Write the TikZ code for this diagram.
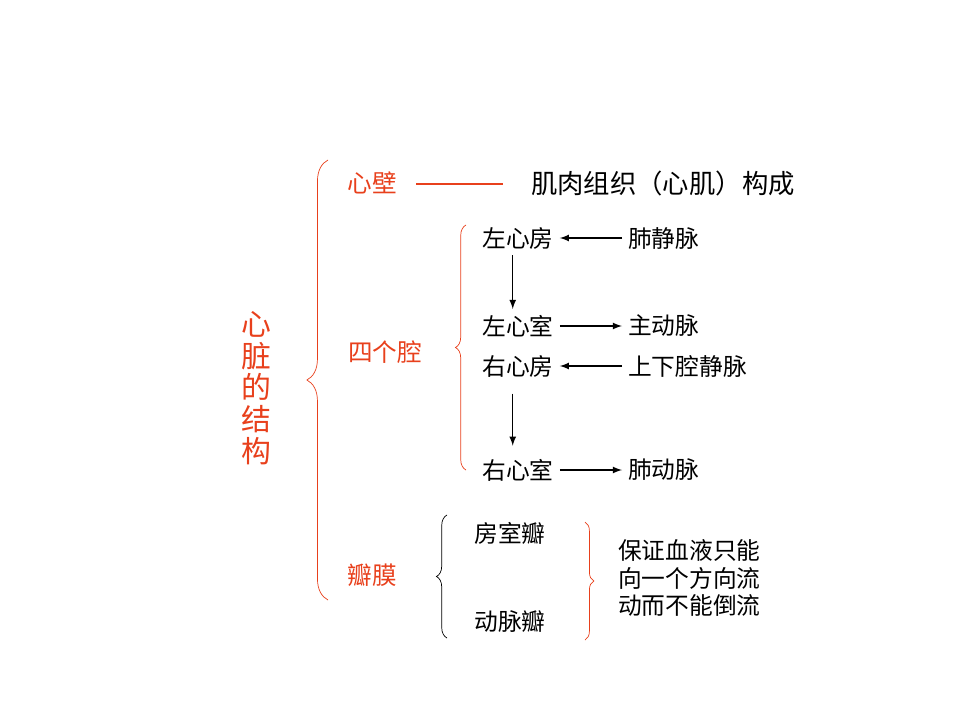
\documentclass[tikz,border=0pt]{standalone}
\usepackage{fontspec}
\newfontfamily\cjk{Noto Sans CJK SC}
\usetikzlibrary{decorations.pathreplacing,arrows,positioning}
\definecolor{hred}{RGB}{232,64,28}
\begin{document}
\begin{tikzpicture}[x=0.02cm,y=-0.02cm,font=\cjk,
    red/.style={text=hred,font=\cjk\fontsize{14}{16}\selectfont},
    blk/.style={font=\cjk\fontsize{13.5}{15.8}\selectfont},
    arr/.style={->,>=latex,thick},
    brc/.style={decorate,decoration={brace,amplitude=#1},draw}]
    \useasboundingbox (0,0) rectangle (960,720);

    \node[text=hred,font=\cjk\fontsize{17}{18}\selectfont,align=center] (title) at (256,388) {心\\脏\\的\\结\\构};
    \draw[brc=12pt,hred] (328,600) -- (328,160);

    % heart wall
    \node[red] (wall) at (372,183) {心壁};
    \node[font=\cjk\fontsize{15}{17}\selectfont,anchor=west] (muscle) at (525,183) {肌肉组织（心肌）构成};
    \coordinate (w1) at (416,184);
    \coordinate (w2) at (503,184);
    \draw[hred,thick] (w1) -- (w2);

    % four chambers
    \node[red] (cav) at (385,352) {四个腔};
    \draw[brc=6pt,hred] (466,470) -- (466,225);
    \node[blk] (la) at (518,238) {左心房};
    \node[blk] (lv) at (518,326) {左心室};
    \node[blk] (ra) at (518,366) {右心房};
    \node[blk] (rv) at (518,470) {右心室};
    \node[blk,anchor=west] (pv) at (622,238) {肺静脉};
    \node[blk,anchor=west] (ao) at (622,326) {主动脉};
    \node[blk,anchor=west] (vc) at (622,366) {上下腔静脉};
    \node[blk,anchor=west] (pa) at (622,470) {肺动脉};
    \draw[arr] (pv) -- (la);
    \draw[arr] (lv) -- (ao);
    \draw[arr] (vc) -- (ra);
    \draw[arr] (rv) -- (pa);
    \draw[arr] ([xshift=-3pt]la.south) -- ([xshift=-3pt]lv.north);
    \draw[arr] ([xshift=-3pt,yshift=-6pt]ra.south) -- ([xshift=-3pt,yshift=4pt]rv.north);

    % valves
    \node[red] (valve) at (372,575) {瓣膜};
    \draw[brc=6pt] (447,638) -- (447,515);
    \node[blk] (avv) at (510,533) {房室瓣};
    \node[blk] (sv) at (510,622) {动脉瓣};
    \draw[brc=5pt,hred] (585,522) -- (585,640);
    \node[blk,align=left,anchor=west] (note) at (612,578) {保证血液只能\\向一个方向流\\动而不能倒流};
\end{tikzpicture}
\end{document}
